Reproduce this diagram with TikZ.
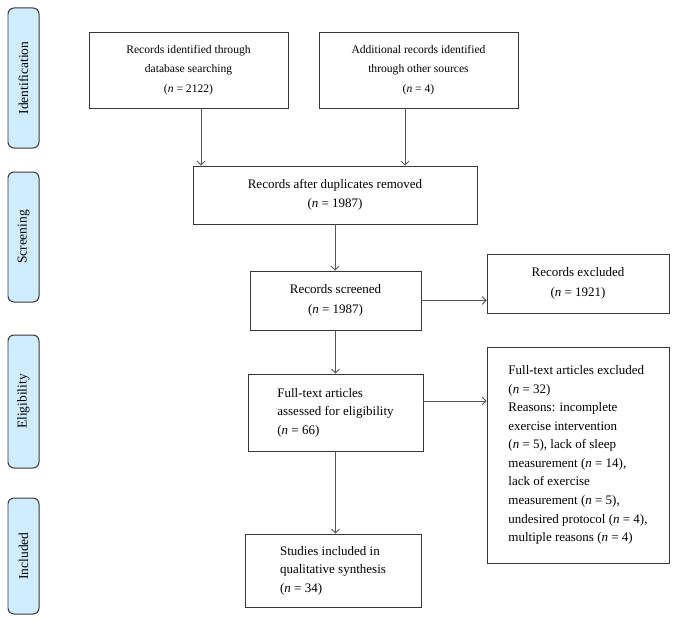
\documentclass[tikz,border=0pt]{standalone}
\usepackage{fontspec}
\setmainfont{Liberation Serif}
\usetikzlibrary{arrows.meta}

\definecolor{stagefill}{RGB}{208,236,255}
\definecolor{boxline}{RGB}{55,55,55}
\definecolor{arrowline}{RGB}{85,85,85}

\tikzset{
  stage/.style={draw=boxline, fill=stagefill, rounded corners=0.15cm, line width=0.025cm,
    rotate=90, minimum height=0.775cm, inner sep=0pt, font=\fontsize{9.6}{11}\selectfont},
  recbox/.style={draw=boxline, line width=0.02cm, fill=white, align=left,
    font=\fontsize{9.25}{13.2}\selectfont},
  midbox/.style={recbox, align=center, font=\fontsize{9.25}{13.9}\selectfont},
  topbox/.style={recbox, align=center, font=\fontsize{8.25}{13.9}\selectfont},
  flow/.style={draw=arrowline, line width=0.02cm, -{Straight Barb[length=0.1cm,width=0.2cm]}}
}

\begin{document}
\begin{tikzpicture}
  \useasboundingbox (0,0) rectangle (16.950000,15.575000);

  % Marking the stages on the left
  \node [stage, minimum width=3.500000cm] (identification) at (0.587500,13.625000) {Identification};
  \node [stage, minimum width=3.250000cm] (screening) at (0.587500,9.650000) {Screening};
  \node [stage, minimum width=3.325000cm] (eligibility) at (0.587500,5.537500) {Eligibility};
  \node [stage, minimum width=2.900000cm] (included) at (0.587500,1.675000) {Included};

  % Marking the identification boxes
  \node [topbox, minimum width=4.975000cm, minimum height=1.900000cm] (database) at (4.712500,13.825000)
    {Records identified through\\database searching\\(\textit{n} = 2122)};
  \node [topbox, minimum width=4.975000cm, minimum height=1.900000cm] (othersrc) at (10.462500,13.825000)
    {Additional records identified\\through other sources\\(\textit{n} = 4)};

  % Marking the screening boxes
  \node [midbox, minimum width=7.100000cm, minimum height=1.450000cm] (duplicates) at (8.375000,10.700000)
    {Records after duplicates removed\\(\textit{n} = 1987)};
  \node [midbox, minimum width=4.275000cm, minimum height=1.475000cm] (screened) at (8.387500,8.062500)
    {Records screened\\(\textit{n} = 1987)};
  \node [midbox, minimum width=4.550000cm, minimum height=1.475000cm] (excluded) at (14.450000,8.487500)
    {Records excluded\\(\textit{n} = 1921)};

  % Marking the eligibility boxes
  \node [recbox, minimum width=4.375000cm, minimum height=1.925000cm] (fulltext) at (8.387500,5.262500)
    {Full-text articles\\assessed for eligibility\\(\textit{n} = 66)};
  \node [recbox, minimum width=4.550000cm, minimum height=5.400000cm] (ftexcluded) at (14.450000,4.200000)
    {Full-text articles excluded\\(\textit{n} = 32)\\Reasons: incomplete\\exercise intervention\\(\textit{n} = 5), lack of sleep\\measurement (\textit{n} = 14),\\lack of exercise\\measurement (\textit{n} = 5),\\undesired protocol (\textit{n} = 4),\\multiple reasons (\textit{n} = 4)};

  % Marking the included box
  \node [recbox, minimum width=4.400000cm, minimum height=1.825000cm] (synthesis) at (8.325000,1.312500)
    {Studies included in\\qualitative synthesis\\(\textit{n} = 34)};

  % Drawing arrows
  \draw [flow] ([xshift=0.312500cm]database.south) -- ([xshift=0.312500cm]database.south |- duplicates.north);
  \draw [flow] ([xshift=-0.337500cm]othersrc.south) -- ([xshift=-0.337500cm]othersrc.south |- duplicates.north);
  \draw [flow] (duplicates.south) -- (duplicates.south |- screened.north);
  \draw [flow] (screened.east) -- (screened.east -| excluded.west);
  \draw [flow] (screened.south) -- (screened.south |- fulltext.north);
  \draw [flow] ([yshift=0.287500cm]fulltext.east) -- ([yshift=0.287500cm]fulltext.east -| ftexcluded.west);
  \draw [flow] (fulltext.south) -- (fulltext.south |- synthesis.north);
\end{tikzpicture}
\end{document}
